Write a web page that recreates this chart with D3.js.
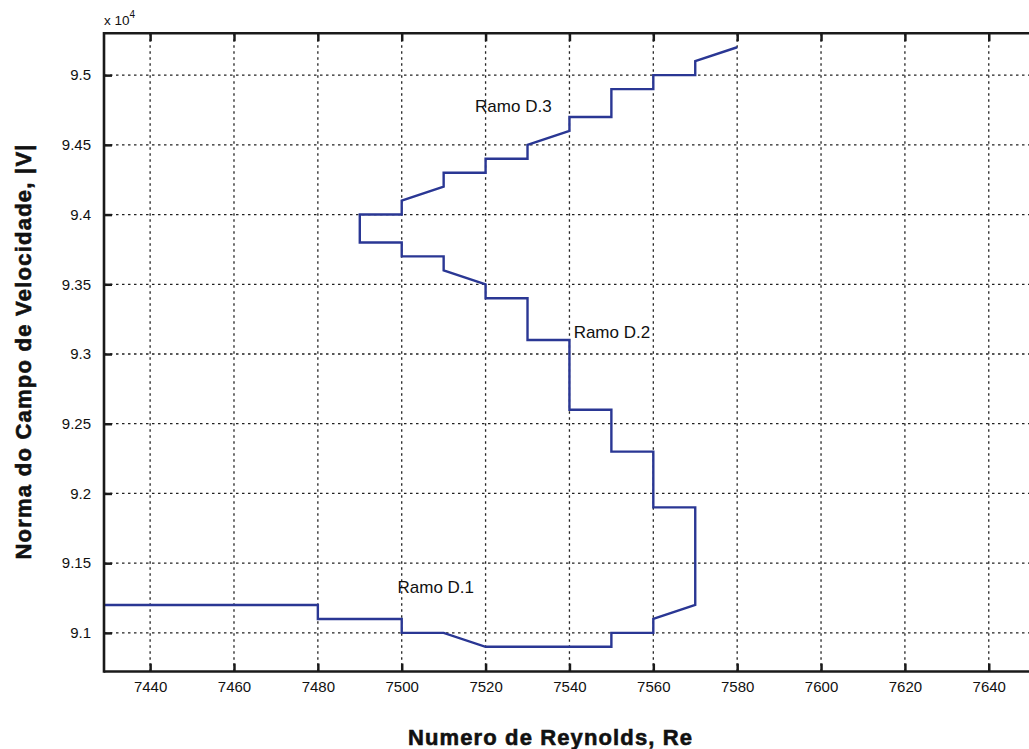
<!DOCTYPE html>
<html>
<head>
<meta charset="utf-8">
<script src="https://cdn.jsdelivr.net/npm/d3@7/dist/d3.min.js"></script>
<style>
  html, body { margin: 0; padding: 0; background: #fff; }
  svg { display: block; }
  text { font-family: "Liberation Sans", Arial, Helvetica, sans-serif; fill: #111; }
</style>
</head>
<body>
<svg id="chart" width="1029" height="749"></svg>
<script>
// Continuation path: Reynolds number vs velocity-field norm (in units of 10^4)
const reynolds = [7420, 7480, 7480, 7500, 7500, 7510, 7520, 7550, 7550, 7560, 7560, 7570,
                  7570, 7560, 7560, 7550, 7550, 7540, 7540, 7530, 7530, 7520, 7520, 7510,
                  7510, 7500, 7500, 7490, 7490, 7500, 7500, 7510, 7510, 7520, 7520, 7530,
                  7530, 7540, 7540, 7550, 7550, 7560, 7560, 7570, 7570, 7580];
const norma = [9.12, 9.12, 9.11, 9.11, 9.10, 9.10, 9.09, 9.09, 9.10, 9.10, 9.11, 9.12,
               9.19, 9.19, 9.23, 9.23, 9.26, 9.26, 9.31, 9.31, 9.34, 9.34, 9.35, 9.36,
               9.37, 9.37, 9.38, 9.38, 9.40, 9.40, 9.41, 9.42, 9.43, 9.43, 9.44, 9.44,
               9.45, 9.46, 9.47, 9.47, 9.49, 9.49, 9.50, 9.50, 9.51, 9.52];

const xTicks = [7440, 7460, 7480, 7500, 7520, 7540, 7560, 7580, 7600, 7620, 7640];
const yTicks = [9.1, 9.15, 9.2, 9.25, 9.3, 9.35, 9.4, 9.45, 9.5];

const branchNames = ["Ramo D.1", "Ramo D.2", "Ramo D.3"];
const branchRe = [7499, 7541, 7517.5];
const branchNorm = [9.1284, 9.3112, 9.4738];

const svg = d3.select("#chart");
const plotLeft = 104, plotRight = 1030.7, plotTop = 33.3, plotBottom = 671.5;

const x = d3.scaleLinear().domain([7429, 7650]).range([plotLeft, plotRight]);
const y = d3.scaleLinear().domain([9.0723, 9.53]).range([plotBottom, plotTop]);

svg.append("defs").append("clipPath").attr("id", "plotClip")
  .append("rect").attr("x", plotLeft).attr("y", plotTop)
  .attr("width", plotRight - plotLeft).attr("height", plotBottom - plotTop);

// dotted grid
const grid = svg.append("g").attr("stroke", "#222").attr("stroke-width", 1.3)
  .attr("stroke-dasharray", "2.5,3.5");
grid.selectAll(".gx").data(xTicks).join("line")
  .attr("x1", d => x(d)).attr("x2", d => x(d)).attr("y1", plotTop).attr("y2", plotBottom);
grid.selectAll(".gy").data(yTicks).join("line")
  .attr("y1", d => y(d)).attr("y2", d => y(d)).attr("x1", plotLeft).attr("x2", plotRight);

// data path
const pts = reynolds.map((r, i) => [r, norma[i]]);
svg.append("path")
  .datum(pts)
  .attr("clip-path", "url(#plotClip)")
  .attr("fill", "none")
  .attr("stroke", "#2a3794")
  .attr("stroke-width", 2.4)
  .attr("stroke-linejoin", "miter")
  .attr("d", d3.line().x(d => x(d[0])).y(d => y(d[1])));

// axes (ticks pointing inward)
const tickLen = 8;
const xAxisB = svg.append("g").attr("transform", `translate(0,${plotBottom})`)
  .call(d3.axisBottom(x).tickValues(xTicks).tickSizeInner(-tickLen).tickSizeOuter(0).tickPadding(10)
    .tickFormat(d3.format("d")));
const xAxisT = svg.append("g").attr("transform", `translate(0,${plotTop})`)
  .call(d3.axisTop(x).tickValues(xTicks).tickSizeInner(-tickLen).tickSizeOuter(0).tickFormat(""));
const yAxisL = svg.append("g").attr("transform", `translate(${plotLeft},0)`)
  .call(d3.axisLeft(y).tickValues(yTicks).tickSizeInner(-tickLen).tickSizeOuter(0).tickPadding(13)
    .tickFormat(d => String(+d.toFixed(2))));

[xAxisB, xAxisT, yAxisL].forEach(g => {
  g.select(".domain").remove();
  g.selectAll(".tick line").attr("stroke", "#1a1a1a").attr("stroke-width", 2.5);
  g.selectAll(".tick text").attr("font-size", 15).attr("fill", "#111")
    .attr("font-family", "'Liberation Sans', Arial, sans-serif");
});

// frame
const frame = svg.append("g").attr("stroke", "#1a1a1a").attr("stroke-width", 2.6).attr("fill", "none");
frame.append("line").attr("x1", plotLeft).attr("x2", plotLeft).attr("y1", plotTop - 1.3).attr("y2", plotBottom + 1.3);
frame.append("line").attr("x1", plotLeft).attr("x2", plotRight).attr("y1", plotTop).attr("y2", plotTop);
frame.append("line").attr("x1", plotLeft).attr("x2", plotRight).attr("y1", plotBottom).attr("y2", plotBottom);
frame.append("line").attr("x1", plotRight).attr("x2", plotRight).attr("y1", plotTop).attr("y2", plotBottom);

// exponent marker
const expo = svg.append("text").attr("x", plotLeft).attr("y", 25).attr("font-size", 13.5);
expo.append("tspan").text("x 10");
expo.append("tspan").attr("dy", -7).attr("font-size", 10).text("4");

// branch annotations
svg.selectAll(".branch").data(branchNames).join("text")
  .attr("x", (d, i) => x(branchRe[i]))
  .attr("y", (d, i) => y(branchNorm[i]))
  .attr("font-size", 17)
  .attr("fill", "#222")
  .text(d => d);

// axis titles
svg.append("text")
  .attr("x", 550).attr("y", 745)
  .attr("text-anchor", "middle")
  .attr("font-size", 22).attr("font-weight", "bold")
  .attr("stroke", "#111").attr("stroke-width", 0.6)
  .attr("textLength", 284).attr("lengthAdjust", "spacing")
  .text("Numero de Reynolds, Re");

svg.append("text")
  .attr("transform", "translate(31,352) rotate(-90)")
  .attr("text-anchor", "middle")
  .attr("font-size", 22).attr("font-weight", "bold")
  .attr("stroke", "#111").attr("stroke-width", 0.6)
  .attr("textLength", 415).attr("lengthAdjust", "spacing")
  .text("Norma do Campo de Velocidade, |V|");
</script>
</body>
</html>
